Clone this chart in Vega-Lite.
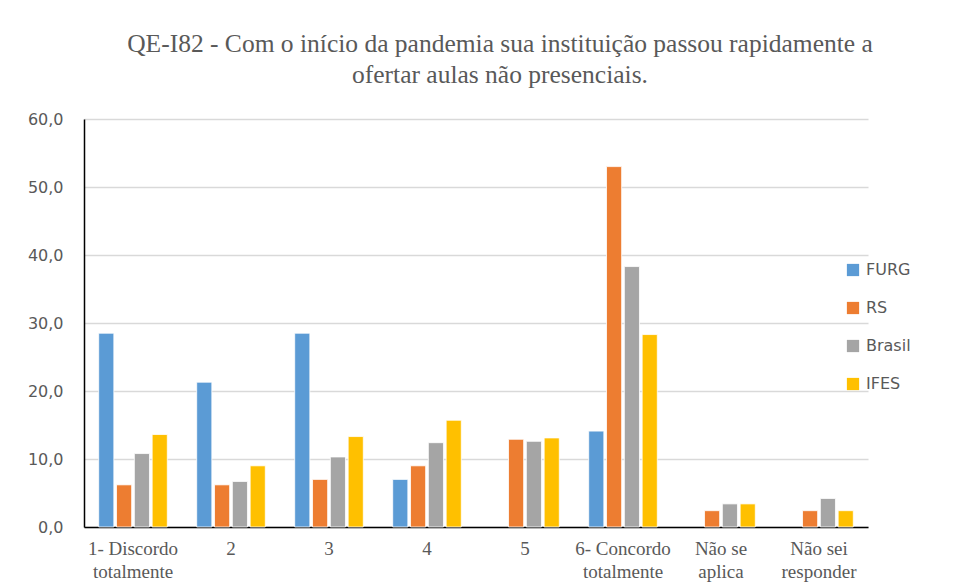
{
  "$schema": "https://vega.github.io/schema/vega-lite/v6.json",
  "width": 784,
  "height": 408,
  "autosize": {"type": "none"},
  "padding": {"left": 84, "top": 119, "right": 112, "bottom": 60},
  "background": "white",
  "title": {
    "text": ["QE-I82 - Com o início  da pandemia sua instituição  passou rapidamente a", "ofertar aulas não presenciais."],
    "font": "Liberation Serif",
    "fontSize": 25.5,
    "fontWeight": "normal",
    "color": "#595959",
    "anchor": "middle",
    "dx": 24,
    "offset": 23,
    "lineHeight": 31
  },
  "data": {
    "values": [
      {"cat": "1- Discordo totalmente", "serie": "FURG", "valor": 28.5},
      {"cat": "1- Discordo totalmente", "serie": "RS", "valor": 6.2},
      {"cat": "1- Discordo totalmente", "serie": "Brasil", "valor": 10.8},
      {"cat": "1- Discordo totalmente", "serie": "IFES", "valor": 13.6},
      {"cat": "2", "serie": "FURG", "valor": 21.3},
      {"cat": "2", "serie": "RS", "valor": 6.2},
      {"cat": "2", "serie": "Brasil", "valor": 6.7},
      {"cat": "2", "serie": "IFES", "valor": 9.0},
      {"cat": "3", "serie": "FURG", "valor": 28.5},
      {"cat": "3", "serie": "RS", "valor": 7.0},
      {"cat": "3", "serie": "Brasil", "valor": 10.3},
      {"cat": "3", "serie": "IFES", "valor": 13.3},
      {"cat": "4", "serie": "FURG", "valor": 7.0},
      {"cat": "4", "serie": "RS", "valor": 9.0},
      {"cat": "4", "serie": "Brasil", "valor": 12.4},
      {"cat": "4", "serie": "IFES", "valor": 15.7},
      {"cat": "5", "serie": "RS", "valor": 12.9},
      {"cat": "5", "serie": "Brasil", "valor": 12.6},
      {"cat": "5", "serie": "IFES", "valor": 13.1},
      {"cat": "6- Concordo totalmente", "serie": "FURG", "valor": 14.1},
      {"cat": "6- Concordo totalmente", "serie": "RS", "valor": 53.0},
      {"cat": "6- Concordo totalmente", "serie": "Brasil", "valor": 38.3},
      {"cat": "6- Concordo totalmente", "serie": "IFES", "valor": 28.3},
      {"cat": "Não se aplica", "serie": "RS", "valor": 2.4},
      {"cat": "Não se aplica", "serie": "Brasil", "valor": 3.4},
      {"cat": "Não se aplica", "serie": "IFES", "valor": 3.4},
      {"cat": "Não sei responder", "serie": "RS", "valor": 2.4},
      {"cat": "Não sei responder", "serie": "Brasil", "valor": 4.2},
      {"cat": "Não sei responder", "serie": "IFES", "valor": 2.4}
    ]
  },
  "mark": {"type": "bar", "stroke": "white", "strokeWidth": 0.8},
  "encoding": {
    "x": {
      "field": "cat",
      "type": "nominal",
      "sort": ["1- Discordo totalmente", "2", "3", "4", "5", "6- Concordo totalmente", "Não se aplica", "Não sei responder"],
      "scale": {"paddingInner": 0.3, "paddingOuter": 0.15},
      "axis": {
        "title": null,
        "labelAngle": 0,
        "labelFont": "Liberation Serif",
        "labelFontSize": 19,
        "labelColor": "#595959",
        "labelPadding": 12,
        "labelLineHeight": 23,
        "labelBaseline": "top",
        "ticks": false,
        "domainColor": "#000000",
        "domainWidth": 1.5,
        "labelExpr": "datum.label == '1- Discordo totalmente' ? ['1- Discordo', 'totalmente'] : datum.label == '6- Concordo totalmente' ? ['6- Concordo', 'totalmente'] : datum.label == 'Não se aplica' ? ['Não se', 'aplica'] : datum.label == 'Não sei responder' ? ['Não sei', 'responder'] : datum.label"
      }
    },
    "xOffset": {
      "field": "serie",
      "type": "nominal",
      "sort": ["FURG", "RS", "Brasil", "IFES"],
      "scale": {"domain": ["FURG", "RS", "Brasil", "IFES"], "paddingInner": 0.15}
    },
    "y": {
      "field": "valor",
      "type": "quantitative",
      "scale": {"domain": [0, 60]},
      "axis": {
        "title": null,
        "values": [0, 10, 20, 30, 40, 50, 60],
        "labelExpr": "replace(format(datum.value, '.1f'), '.', ',')",
        "labelFont": "DejaVu Sans",
        "labelFontSize": 16,
        "labelColor": "#595959",
        "labelPadding": 21,
        "ticks": false,
        "domainColor": "#000000",
        "domainWidth": 1.5,
        "gridColor": "#D9D9D9",
        "gridWidth": 1.5
      }
    },
    "color": {
      "field": "serie",
      "type": "nominal",
      "sort": ["FURG", "RS", "Brasil", "IFES"],
      "scale": {"domain": ["FURG", "RS", "Brasil", "IFES"], "range": ["#5B9BD5", "#ED7D31", "#A5A5A5", "#FFC000"]},
      "legend": {
        "title": null,
        "orient": "none",
        "legendX": 761,
        "legendY": 143,
        "symbolType": "square",
        "symbolSize": 150,
        "symbolStrokeWidth": 0,
        "labelFont": "DejaVu Sans",
        "labelFontSize": 16,
        "labelColor": "#595959",
        "labelOffset": 5,
        "rowPadding": 22
      }
    }
  },
  "config": {"view": {"stroke": null}}
}
